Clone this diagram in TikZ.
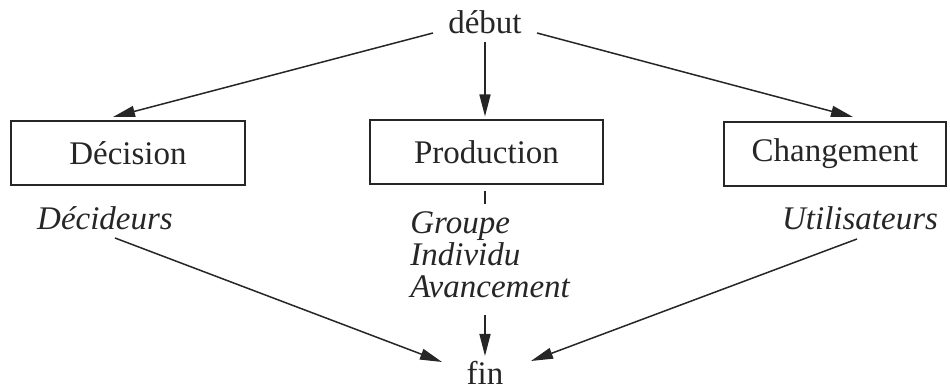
\documentclass[tikz,border=0pt]{standalone}
\usepackage{fontspec}
\setmainfont{Liberation Serif}
\usetikzlibrary{arrows.meta,calc}
\begin{document}
\begin{tikzpicture}[x=0.5pt,y=-0.5pt,
  lbl/.style={text=black!85, font=\fontsize{16.5}{16}\selectfont, inner sep=0pt},
  role/.style={lbl, font=\fontsize{16.5}{16}\selectfont\itshape},
  box/.style={lbl, draw=black!85, line width=1pt, minimum width=117pt, minimum height=32pt},
  flow/.style={draw=black!85, line width=0.75pt, -{Triangle[length=11pt,width=5.5pt]}},
  tick/.style={draw=black!85, line width=0.75pt}]
\useasboundingbox (0,0) rectangle (950,389);

% start and end labels
\node[lbl] (debut) at (485,22) {début};
\node[lbl] (fin) at (485,373) {fin};

% the three activities
\node[box] (dec) at (128,153) {Décision};
\node[box, minimum width=116.5pt] (prod) at (486.5,152.5) {Production};
\node[box, minimum width=111pt] (chg) at (835,154) {Changement};

% actors under each activity
\node[role] (dcd) at (105,218) {Décideurs};
\node[role, align=left, anchor=north west] (grp) at (410,211) {Groupe\\Individu\\Avancement};
\node[role] (usr) at (860,218) {Utilisateurs};

% flows from the start
\draw[flow] ([shift={(-52,11)}]debut.center) -- ([shift={(-15,-3)}]dec.north);
\draw[flow] ([shift={(0,20)}]debut.center) -- ([shift={(-1.5,-3)}]prod.north);
\draw[flow] ([shift={(52,11)}]debut.center) -- ([shift={(18,-4)}]chg.north);

% link from Production to its actors
\draw[tick] ([shift={(-1.5,6)}]prod.south) -- ([shift={(-1.5,19)}]prod.south);

% flows to the end
\draw[flow] ([shift={(10,20)}]dcd.center) -- ([shift={(-43,-11)}]fin.center);
\draw[flow] ($(grp.south -| fin.north)+(0,17)$) -- ([shift={(0,-5)}]fin.north);
\draw[flow] ([shift={(-3,21)}]usr.center) -- ([shift={(46,-12)}]fin.center);
\end{tikzpicture}
\end{document}
